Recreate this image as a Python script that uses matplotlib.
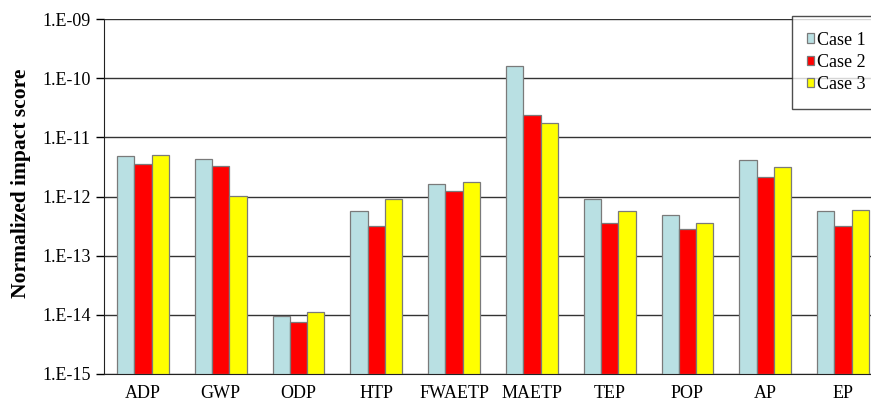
import matplotlib
matplotlib.use("Agg")
import matplotlib.pyplot as plt
import numpy as np

categories = ["ADP", "GWP", "ODP", "HTP", "FWAETP", "MAETP", "TEP", "POP", "AP", "EP"]
case1 = [4.9e-12, 4.3e-12, 8.7e-15, 5.7e-13, 1.6e-12, 1.6e-10, 8.9e-13, 4.9e-13, 4.1e-12, 5.7e-13]
case2 = [3.6e-12, 3.3e-12, 6.6e-15, 3.15e-13, 1.22e-12, 2.4e-11, 3.55e-13, 2.8e-13, 2.14e-12, 3.2e-13]
case3 = [5.0e-12, 1.0e-12, 1.0e-14, 8.9e-13, 1.78e-12, 1.75e-11, 5.6e-13, 3.5e-13, 3.1e-12, 5.9e-13]
series_names = ["Case 1", "Case 2", "Case 3"]
colors = ["#B9E0E3", "#FF0000", "#FFFF00"]
ytick_vals = [1e-15, 1e-14, 1e-13, 1e-12, 1e-11, 1e-10, 1e-9]
ytick_labels = ["1.E-15", "1.E-14", "1.E-13", "1.E-12", "1.E-11", "1.E-10", "1.E-09"]

plt.rcParams["font.family"] = ["Liberation Serif", "DejaVu Serif"]

fig = plt.figure(figsize=(8.71, 4.01), dpi=100)
ax = fig.add_axes([104 / 871, 1 - 374 / 401, 778 / 871, 355 / 401])

x = np.arange(len(categories))
w = 0.222
for i, (vals, name, c) in enumerate(zip([case1, case2, case3], series_names, colors)):
    ax.bar(x + (i - 1) * w, vals, width=w, bottom=1e-15, color=c,
           edgecolor="#7a7a7a", linewidth=0.9, label=name, zorder=3)

ax.set_yscale("log")
ax.set_ylim(1e-15, 1e-9)
ax.set_xlim(-0.5, len(categories) - 0.5)
ax.set_yticks(ytick_vals)
ax.set_yticklabels(ytick_labels)
ax.yaxis.set_minor_locator(matplotlib.ticker.NullLocator())
ax.set_xticks(x)
ax.set_xticklabels(categories)
ax.tick_params(axis="x", length=0, labelsize=13, pad=8)
ax.tick_params(axis="y", direction="out", length=6, labelsize=13, width=1)
ax.grid(axis="y", color="#333333", linewidth=1, zorder=0)
for s in ["top", "right"]:
    ax.spines[s].set_visible(False)
ax.spines["left"].set_color("#222222")
ax.spines["bottom"].set_color("#222222")

ax.set_ylabel("Normalized impact score", fontsize=15.5, fontweight="bold")
ax.yaxis.set_label_coords(-0.094, 0.538)

leg = ax.legend(loc="upper left", bbox_to_anchor=(0.884, 1.008), borderaxespad=0,
                fontsize=13, frameon=True, fancybox=False, edgecolor="#222222",
                handlelength=0.4, handleheight=0.4, handletextpad=0.15,
                borderpad=0.85, labelspacing=0.3)
leg.get_frame().set_linewidth(1)
leg.set_zorder(5)

fig.savefig("out.png", dpi=100)
